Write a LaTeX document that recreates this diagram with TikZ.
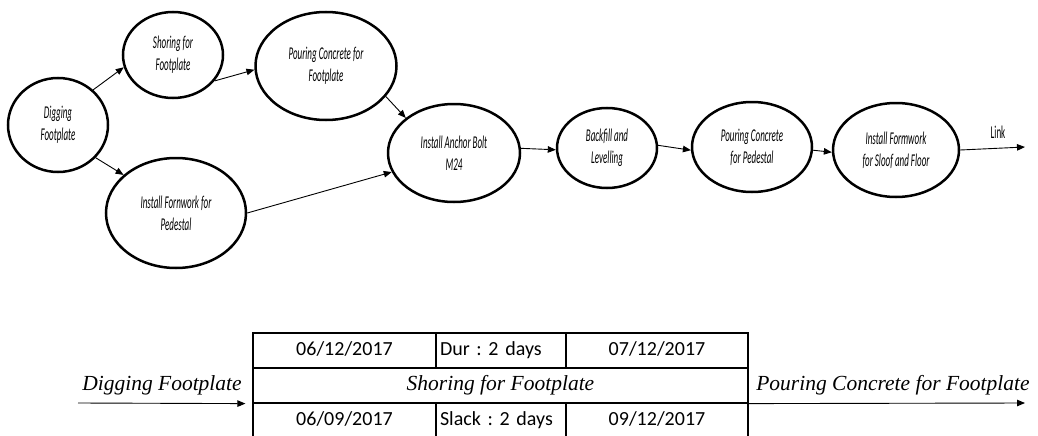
\documentclass[tikz,border=0pt]{standalone}
\usepackage{fontspec}
\usepackage{tikz}
\usetikzlibrary{arrows.meta, shapes.geometric}
\setmainfont{Liberation Serif}
\newfontfamily\elfont[FakeStretch=0.5]{Carlito}
\newfontfamily\tabfont{Carlito}
\frenchspacing

\begin{document}
\begin{tikzpicture}[
  x=1pt, y=-1pt,
  ev/.style={draw, ellipse, line width=2.5pt, inner sep=0pt, align=center,
             font=\elfont\itshape\fontsize{18}{22}\selectfont},
  cell/.style={draw, line width=1.2pt, minimum height=35pt, inner sep=0pt,
               text height=14pt, text depth=4pt,
               font=\tabfont\fontsize{20}{24}\selectfont},
  lbl/.style={font=\itshape\fontsize{21.5}{24}\selectfont, inner sep=0pt},
  arr/.style={-{Triangle[length=8pt, width=6.5pt]}, line width=0.9pt}
]
  \useasboundingbox (0,0) rectangle (1038,436);
  \clip (0,0) rectangle (1038,436);

  % network
  \node[ev, minimum width=100pt, minimum height=94pt] (dig) at (58,125) {Digging\\Footplate};
  \node[ev, minimum width=100pt, minimum height=86pt] (shor) at (173,55) {Shoring for\\Footplate};
  \node[ev, minimum width=141pt, minimum height=108pt] (pcf) at (326,66) {Pouring Concrete for\\Footplate};
  \node[ev, minimum width=140pt, minimum height=110pt] (fw) at (176,213) {Install Fornwork for\\Pedestal};
  \node[ev, minimum width=132pt, minimum height=98pt] (anc) at (454,153) {Install Anchor Bolt\\M24};
  \node[ev, minimum width=100pt, minimum height=80pt] (back) at (607,148) {Backfill and\\Levelling};
  \node[ev, minimum width=120pt, minimum height=90pt] (pcp) at (752,147) {Pouring Concrete\\for Pedestal};
  \node[ev, minimum width=126pt, minimum height=94pt] (fm) at (896,150) {Install Formwork\\for Sloof and Floor};
  \coordinate (link) at (1025,147);
  \node[font=\elfont\fontsize{18}{20}\selectfont] (linklbl) at (998,132) {Link};

  \draw[arr] (dig.45) -- (shor.194);
  \draw[arr] (dig.319) -- (fw.144);
  \draw[arr] (shor.328) -- (pcf.183);
  \draw[arr] (pcf.333) -- (anc.144);
  \draw[arr] (fw.0) -- (anc.197);
  \draw[arr] (anc.4) -- (back.182);
  \draw[arr] (back.3) -- (pcp.183);
  \draw[arr] (pcp.357) -- (fm.182);
  \draw[arr] (fm.east) -- (link);

  % activity box
  \node[cell, minimum width=183pt] (es) at (344.5,350.5) {06/12/2017};
  \node[cell, minimum width=130pt, text width=122pt, inner xsep=4pt, align=left] (dur) at (501,350.5) {Dur : 2 days};
  \node[cell, minimum width=182pt] (ef) at (657,350.5) {07/12/2017};
  \node[cell, minimum width=495pt, font=\itshape\fontsize{21.5}{24}\selectfont] (shr) at (500.5,385.5) {Shoring for Footplate};
  \node[cell, minimum width=183pt] (ls) at (344.5,420.5) {06/09/2017};
  \node[cell, minimum width=130pt, text width=122pt, inner xsep=4pt, align=left] (slk) at (501,420.5) {Slack : 2 days};
  \node[cell, minimum width=182pt] (lf) at (657,420.5) {09/12/2017};

  \coordinate (inL) at (78,403);
  \coordinate (outR) at (1025,403);
  \node[lbl] (prev) at (162,385) {Digging Footplate};
  \node[lbl] (next) at (893,385) {Pouring Concrete for Footplate};
  \draw[arr] (inL) -- ([xshift=-7pt]shr.south west);
  \draw[arr] (shr.south east) -- (outR);
\end{tikzpicture}
\end{document}
